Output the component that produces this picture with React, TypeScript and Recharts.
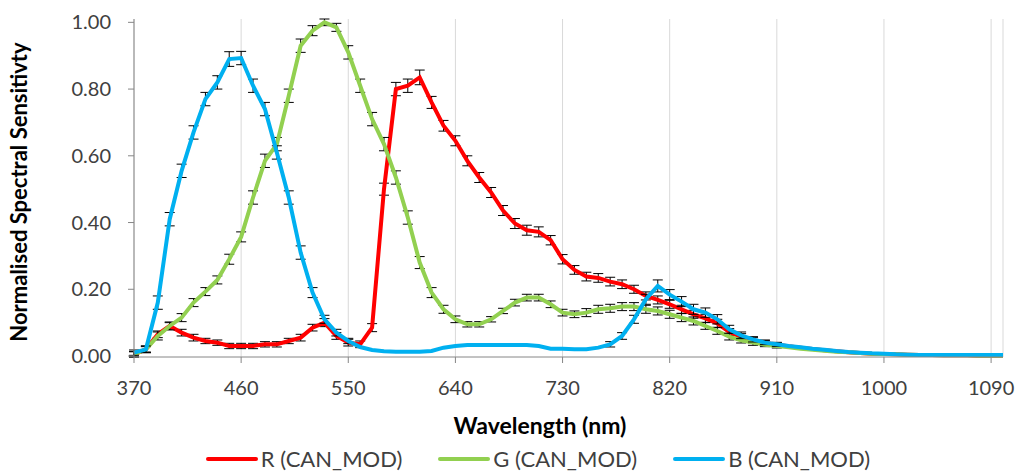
import React from "react"
import {
  LineChart,
  Line,
  XAxis,
  YAxis,
  CartesianGrid,
  ErrorBar,
  Legend,
} from "recharts"

// wavelengths (nm)
const wavelengths = [
  370, 380, 390, 400, 410, 420, 430, 440, 450, 460,
  470, 480, 490, 500, 510, 520, 530, 540, 550, 560,
  570, 580, 590, 600, 610, 620, 630, 640, 650, 660,
  670, 680, 690, 700, 710, 720, 730, 740, 750, 760,
  770, 780, 790, 800, 810, 820, 830, 840, 850, 860,
  870, 880, 890, 900, 910, 920, 930, 940, 950, 960,
  970, 980, 990, 1000, 1010, 1020, 1030, 1040, 1050, 1060,
  1070, 1080, 1090, 1100,
]

const redValues = [
  0.005, 0.02, 0.065, 0.09, 0.07, 0.055, 0.045, 0.04, 0.03, 0.03,
  0.03, 0.035, 0.035, 0.045, 0.055, 0.085, 0.1, 0.06, 0.04, 0.035,
  0.085, 0.5, 0.8, 0.81, 0.835, 0.76, 0.69, 0.645, 0.585, 0.535,
  0.49, 0.436, 0.397, 0.377, 0.372, 0.347, 0.29, 0.258, 0.238, 0.234,
  0.223, 0.215, 0.2, 0.18, 0.168, 0.155, 0.14, 0.125, 0.113, 0.098,
  0.072, 0.057, 0.047, 0.04, 0.034, 0.029, 0.025, 0.021, 0.017, 0.014,
  0.011, 0.009, 0.007, 0.006, 0.005, 0.004, 0.003, 0.003, 0.002, 0.002,
  0.002, 0.001, 0.001, 0.001,
]

const greenValues = [
  0.005, 0.02, 0.06, 0.09, 0.115, 0.16, 0.193, 0.228, 0.29, 0.357,
  0.475, 0.585, 0.635, 0.78, 0.93, 0.975, 1.0, 0.985, 0.91, 0.81,
  0.71, 0.635, 0.535, 0.415, 0.28, 0.19, 0.14, 0.11, 0.095, 0.095,
  0.11, 0.135, 0.16, 0.175, 0.175, 0.155, 0.13, 0.125, 0.13, 0.14,
  0.143, 0.148, 0.148, 0.14, 0.135, 0.125, 0.115, 0.105, 0.09, 0.075,
  0.058, 0.047, 0.04, 0.034, 0.03, 0.026, 0.022, 0.019, 0.016, 0.013,
  0.011, 0.009, 0.007, 0.006, 0.005, 0.004, 0.003, 0.003, 0.002, 0.002,
  0.002, 0.001, 0.001, 0.001,
]

const blueValues = [
  0.01, 0.02, 0.16, 0.41, 0.555, 0.67, 0.77, 0.82, 0.89, 0.893,
  0.81, 0.74, 0.61, 0.475, 0.31, 0.19, 0.11, 0.07, 0.045, 0.027,
  0.018, 0.014, 0.013, 0.013, 0.013, 0.015, 0.025, 0.03, 0.033, 0.033,
  0.033, 0.033, 0.033, 0.033, 0.03, 0.022, 0.022, 0.02, 0.02, 0.025,
  0.035, 0.06, 0.11, 0.17, 0.21, 0.184, 0.163, 0.14, 0.13, 0.11,
  0.08, 0.062, 0.05, 0.04, 0.035, 0.03, 0.026, 0.022, 0.019, 0.015,
  0.012, 0.01, 0.008, 0.007, 0.005, 0.004, 0.003, 0.003, 0.003, 0.003,
  0.003, 0.003, 0.003, 0.003,
]

// +/- error (null = no error bar drawn)
const redErrors = [
  0.008, 0.008, 0.01, 0.01, 0.01, 0.01, 0.008, 0.008, 0.008, 0.008,
  0.008, 0.008, 0.008, 0.008, 0.01, 0.01, 0.012, 0.01, 0.01, 0.01,
  0.012, 0.018, 0.02, 0.02, 0.022, 0.018, 0.016, 0.015, 0.015, 0.015,
  0.015, 0.015, 0.015, 0.015, 0.015, 0.014, 0.014, 0.013, 0.013, 0.013,
  0.013, 0.013, 0.012, 0.012, 0.012, 0.012, 0.012, 0.012, 0.012, 0.012,
  0.01, 0.01, 0.008, 0.008, 0.006, null, null, null, null, null,
  null, null, null, null, null, null, null, null, null, null,
  null, null, null, null,
]

const greenErrors = [
  0.008, 0.01, 0.012, 0.012, 0.012, 0.012, 0.012, 0.012, 0.015, 0.015,
  0.02, 0.02, 0.02, 0.02, 0.02, 0.015, 0.01, 0.012, 0.02, 0.02,
  0.02, 0.02, 0.02, 0.02, 0.018, 0.015, 0.012, 0.01, 0.008, 0.008,
  0.008, 0.008, 0.01, 0.01, 0.01, 0.01, 0.01, 0.01, 0.012, 0.012,
  0.012, 0.012, 0.012, 0.012, 0.012, 0.012, 0.012, 0.012, 0.01, 0.01,
  0.01, 0.008, 0.008, 0.006, 0.006, null, null, null, null, null,
  null, null, null, null, null, null, null, null, null, null,
  null, null, null, null,
]

const blueErrors = [
  0.008, 0.01, 0.02, 0.02, 0.02, 0.02, 0.02, 0.02, 0.022, 0.02,
  0.02, 0.02, 0.02, 0.02, 0.02, 0.015, 0.012, 0.01, 0.008, null,
  null, null, null, null, null, null, null, null, null, null,
  null, null, null, null, null, null, null, null, null, null,
  0.008, 0.01, 0.012, 0.015, 0.018, 0.015, 0.015, 0.015, 0.014, 0.014,
  0.012, 0.01, 0.008, 0.006, 0.006, null, null, null, null, null,
  null, null, null, null, null, null, null, null, null, null,
  null, null, null, null,
]

const xTicks = [370, 460, 550, 640, 730, 820, 910, 1000, 1090]
const yTicks = [0, 0.2, 0.4, 0.6, 0.8, 1.0]

const seriesNames = ["R (CAN_MOD)", "G (CAN_MOD)", "B (CAN_MOD)"]
const seriesColors = ["#ff0000", "#92d050", "#00b0f0"]

const data = wavelengths.map((wl, i) => ({
  wl,
  r: redValues[i],
  g: greenValues[i],
  b: blueValues[i],
  rErr: redErrors[i],
  gErr: greenErrors[i],
  bErr: blueErrors[i],
}))

const FONT = "Lato, 'Open Sans', sans-serif"
const TEXT = "#404040"
const AXIS = "#868686"

const XTick = ({ x, y, payload }: any) => (
  <text x={x} y={y + 30} textAnchor="middle" fontFamily={FONT} fontSize={20} fill={TEXT}>
    {payload.value}
  </text>
)

const YTick = ({ x, y, payload }: any) => (
  <text x={x} y={y + 7} textAnchor="end" fontFamily={FONT} fontSize={20} fill={TEXT}>
    {Number(payload.value).toFixed(2)}
  </text>
)

const ChartLegend = () => (
  <div
    style={{
      display: "flex",
      justifyContent: "center",
      gap: 36,
      fontFamily: FONT,
      fontSize: 22,
      lineHeight: "26px",
      color: TEXT,
      marginTop: 4,
      paddingLeft: 73,
    }}
  >
    {seriesNames.map((name, i) => (
      <div key={name} style={{ display: "flex", alignItems: "center" }}>
        <span style={{ display: "inline-block", width: 52, height: 4, background: seriesColors[i], borderRadius: 2, marginRight: 3 }} />
        <span>{name}</span>
      </div>
    ))}
  </div>
)

export default function App() {
  return (
    <div style={{ position: "absolute", left: 0, top: 0, width: 1021, height: 472, background: "#fff" }}>
      <LineChart
        width={1021}
        height={472}
        data={data}
        margin={{ top: 19, right: 18, left: 0, bottom: 0 }}
      >
        <CartesianGrid horizontal={false} stroke="#d9d9d9" />
        <XAxis
          dataKey="wl"
          type="number"
          domain={[370, 1100]}
          ticks={xTicks}
          interval={0}
          height={85}
          stroke={AXIS}
          tickSize={6}
          tick={<XTick />}
          label={{
            content: () => (
              <text x={540} y={434} textAnchor="middle" fontFamily={FONT} fontSize={23} fontWeight="bold" fill="#000">
                Wavelength (nm)
              </text>
            ),
          }}
        />
        <YAxis
          type="number"
          domain={[0, 1]}
          ticks={yTicks}
          width={134}
          stroke={AXIS}
          tickSize={6}
          tickMargin={17}
          tick={<YTick />}
          label={{
            content: () => (
              <text
                x={27}
                y={192}
                transform="rotate(-90 27 192)"
                textAnchor="middle"
                fontFamily={FONT}
                fontSize={22}
                fontWeight="bold"
                fill="#000"
              >
                Normalised Spectral Sensitivty
              </text>
            ),
          }}
        />
        <Legend verticalAlign="bottom" height={30} content={<ChartLegend />} />
        <Line dataKey="r" name={seriesNames[0]} stroke={seriesColors[0]} strokeWidth={4} dot={false} isAnimationActive={false}>
          <ErrorBar dataKey="rErr" direction="y" width={5} stroke="#000" strokeWidth={1} isAnimationActive={false} />
        </Line>
        <Line dataKey="g" name={seriesNames[1]} stroke={seriesColors[1]} strokeWidth={4} dot={false} isAnimationActive={false}>
          <ErrorBar dataKey="gErr" direction="y" width={5} stroke="#000" strokeWidth={1} isAnimationActive={false} />
        </Line>
        <Line dataKey="b" name={seriesNames[2]} stroke={seriesColors[2]} strokeWidth={4} dot={false} isAnimationActive={false}>
          <ErrorBar dataKey="bErr" direction="y" width={5} stroke="#000" strokeWidth={1} isAnimationActive={false} />
        </Line>
      </LineChart>
    </div>
  )
}
